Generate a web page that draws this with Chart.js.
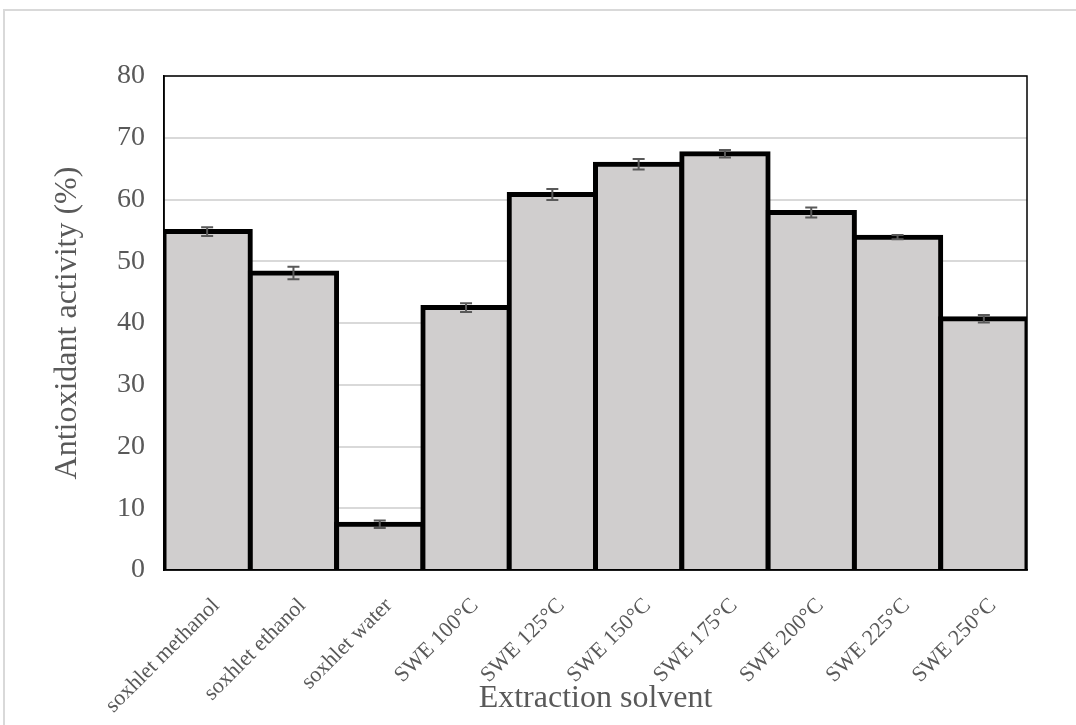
<!DOCTYPE html>
<html>
<head>
<meta charset="utf-8">
<script src="https://cdn.jsdelivr.net/npm/chart.js@4.4.1/dist/chart.umd.min.js"></script>
<style>
  body { margin: 0; background: #fff; overflow: hidden; }
  #frame { position: absolute; left: 3px; top: 9px; width: 2000px; height: 2000px;
           border-left: 2px solid #d9d9d9; border-top: 2px solid #d9d9d9; }
  #chart { position: absolute; left: 0; top: 0; }
</style>
</head>
<body>
<div id="frame"></div>
<canvas id="chart" width="1076" height="725"></canvas>
<script>
// Antioxidant activity by extraction solvent
const solvents = ["soxhlet methanol", "soxhlet ethanol", "soxhlet water", "SWE 100°C", "SWE 125°C",
                  "SWE 150°C", "SWE 175°C", "SWE 200°C", "SWE 225°C", "SWE 250°C"];
const activity = [54.8, 48.1, 7.4, 42.5, 60.8, 65.7, 67.4, 57.9, 53.9, 40.7];
const errors = [0.7, 1.0, 0.6, 0.7, 0.9, 0.85, 0.6, 0.8, 0.35, 0.6];
const yTicks = [0, 10, 20, 30, 40, 50, 60, 70, 80];

const textGrey = "#595959";
const serif = "'Liberation Serif', 'Times New Roman', serif";

// error bars drawn from the y scale
const errorBars = {
  id: "errorBars",
  afterDatasetsDraw(chart) {
    const ctx = chart.ctx;
    const y = chart.scales.y;
    const meta = chart.getDatasetMeta(0);
    ctx.save();
    ctx.strokeStyle = textGrey;
    ctx.lineWidth = 2;
    meta.data.forEach((bar, i) => {
      const hi = y.getPixelForValue(activity[i] + errors[i]);
      const lo = y.getPixelForValue(activity[i] - errors[i]);
      ctx.beginPath();
      ctx.moveTo(bar.x, hi); ctx.lineTo(bar.x, lo);
      ctx.moveTo(bar.x - 6, hi); ctx.lineTo(bar.x + 6, hi);
      ctx.moveTo(bar.x - 6, lo); ctx.lineTo(bar.x + 6, lo);
      ctx.stroke();
    });
    ctx.restore();
  }
};

// black frame around the plot area
const plotFrame = {
  id: "plotFrame",
  afterDatasetsDraw(chart) {
    const { ctx, chartArea: a } = chart;
    ctx.save();
    ctx.strokeStyle = "#000";
    ctx.lineWidth = 1.5;
    ctx.strokeRect(a.left, a.top, a.right - a.left, a.bottom - a.top);
    ctx.restore();
  }
};

new Chart(document.getElementById("chart"), {
  type: "bar",
  data: {
    labels: solvents,
    datasets: [{
      data: activity,
      backgroundColor: "#d0cece",
      borderColor: "#000",
      borderWidth: 5,
      inflateAmount: 2.5,
      borderSkipped: "start",
      barPercentage: 1,
      categoryPercentage: 1
    }]
  },
  options: {
    responsive: false,
    animation: false,
    layout: { padding: { top: 76, right: 49, left: 0, bottom: 0 } },
    plugins: { legend: { display: false }, tooltip: { enabled: false } },
    scales: {
      x: {
        grid: { display: false },
        border: { color: "#000", width: 1.5 },
        ticks: {
          color: textGrey,
          font: { family: serif, size: 22 },
          minRotation: 45, maxRotation: 45,
          padding: 15, labelOffset: 9
        },
        title: {
          display: true, text: "Extraction solvent", color: textGrey,
          font: { family: serif, size: 32 }, padding: { top: 0, bottom: 7 }
        },
        afterFit(scale) { scale.height = 155; }
      },
      y: {
        min: 0, max: 80,
        afterBuildTicks(scale) { scale.ticks = yTicks.map(v => ({ value: v })); },
        grid: { color: "#d9d9d9", lineWidth: 2, drawTicks: false },
        border: { color: "#000", width: 1.5 },
        ticks: { color: textGrey, font: { family: serif, size: 28 }, padding: 19 },
        title: {
          display: true, text: "Antioxidant activity (%)", color: textGrey,
          font: { family: serif, size: 32 }, padding: { top: 48, bottom: 0 }
        },
        afterFit(scale) { scale.width = 164; }
      }
    }
  },
  plugins: [plotFrame, errorBars]
});
</script>
</body>
</html>
